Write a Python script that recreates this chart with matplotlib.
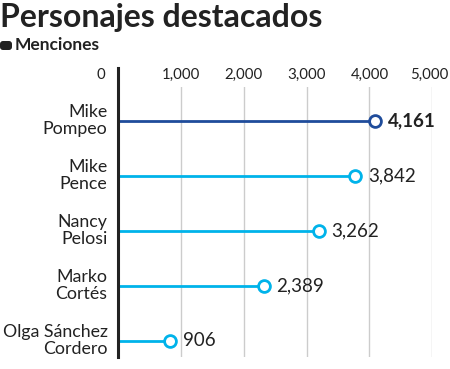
import matplotlib.pyplot as plt
import matplotlib.transforms as mtransforms
from matplotlib.patches import FancyBboxPatch

plt.rcParams['font.family'] = ['Lato', 'DejaVu Sans']

# data
names = ["Mike\nPompeo", "Mike\nPence", "Nancy\nPelosi", "Marko\nCortés", "Olga Sánchez\nCordero"]
menciones = [4161, 3842, 3262, 2389, 906]
ticks = [0, 1000, 2000, 3000, 4000, 5000]
tick_labels = ["0", "1,000", "2,000", "3,000", "4,000", "5,000"]

dark_blue = "#1f4c9b"
cyan = "#00b3ea"
colors = [dark_blue] + [cyan] * (len(names) - 1)
txt = "#222222"

fig = plt.figure(figsize=(4.5, 3.69), dpi=100)
ax = fig.add_axes([118 / 450, 1 - 357 / 369, (432.3 - 118) / 450, (357 - 87) / 369])
ax.set_xlim(0, 5000)
ax.set_ylim(len(names) - 1 + 0.295, -0.613)

for s in ax.spines.values():
    s.set_visible(False)
ax.set_xticks([])
ax.set_yticks([])

# gridlines
for t in ticks[1:]:
    ax.axvline(t, color="#cccccc", lw=1, zorder=0)
# main axis line
ax.axvline(0, ymin=0, ymax=1.0704, color=txt, lw=2.2, clip_on=False, zorder=3)

# tick labels on top
top = mtransforms.blended_transform_factory(ax.transData, fig.transFigure)
for t, lab in zip(ticks, tick_labels):
    tr = top
    if t == 0:
        tr = top + mtransforms.ScaledTranslation(-17 / 100, 0, fig.dpi_scale_trans)
    elif t == ticks[-1]:
        tr = top + mtransforms.ScaledTranslation(-3 / 100, 0, fig.dpi_scale_trans)
    ax.text(t, 1 - 75 / 369, lab, transform=tr, ha="center", va="center",
            fontsize=10.8, color=txt)

# marker shift so the circle sits just at the end of the line
shift = mtransforms.ScaledTranslation(-4.5 / 100, 0, fig.dpi_scale_trans)
for i, (n, v, c) in enumerate(zip(names, menciones, colors)):
    ax.plot([0, v], [i, i], color=c, lw=2, solid_capstyle="butt", zorder=2)
    ax.plot([v], [i], marker="o", ms=8.5, mfc="white", mec=c, mew=2,
            transform=ax.transData + shift, zorder=4, clip_on=False)
    ax.annotate(f"{v:,}", (v, i), xytext=(6, 0), textcoords="offset points",
                ha="left", va="center", fontsize=13.5, color=txt,
                fontweight="bold" if i == 0 else "normal")
    ax.annotate(n, (0, i), xytext=(-7.5, 0), textcoords="offset points",
                ha="right", va="center", fontsize=12.8, color=txt,
                linespacing=1.1, annotation_clip=False)

# title and subtitle
fig.text(0.0, 1 - 17 / 369, "Personajes destacados", fontsize=23, fontweight="bold",
         color=txt, ha="left", va="center")
fig.patches.append(FancyBboxPatch((0.0, (369 - 50) / 100), 0.12, 0.09,
                                  boxstyle="round,pad=0,rounding_size=0.03",
                                  transform=fig.dpi_scale_trans, fc=txt, ec="none"))
fig.text(15 / 450, 1 - 45 / 369, "Menciones", fontsize=12.5, fontweight="bold",
         color=txt, ha="left", va="center")

plt.savefig("out.png", dpi=100)
